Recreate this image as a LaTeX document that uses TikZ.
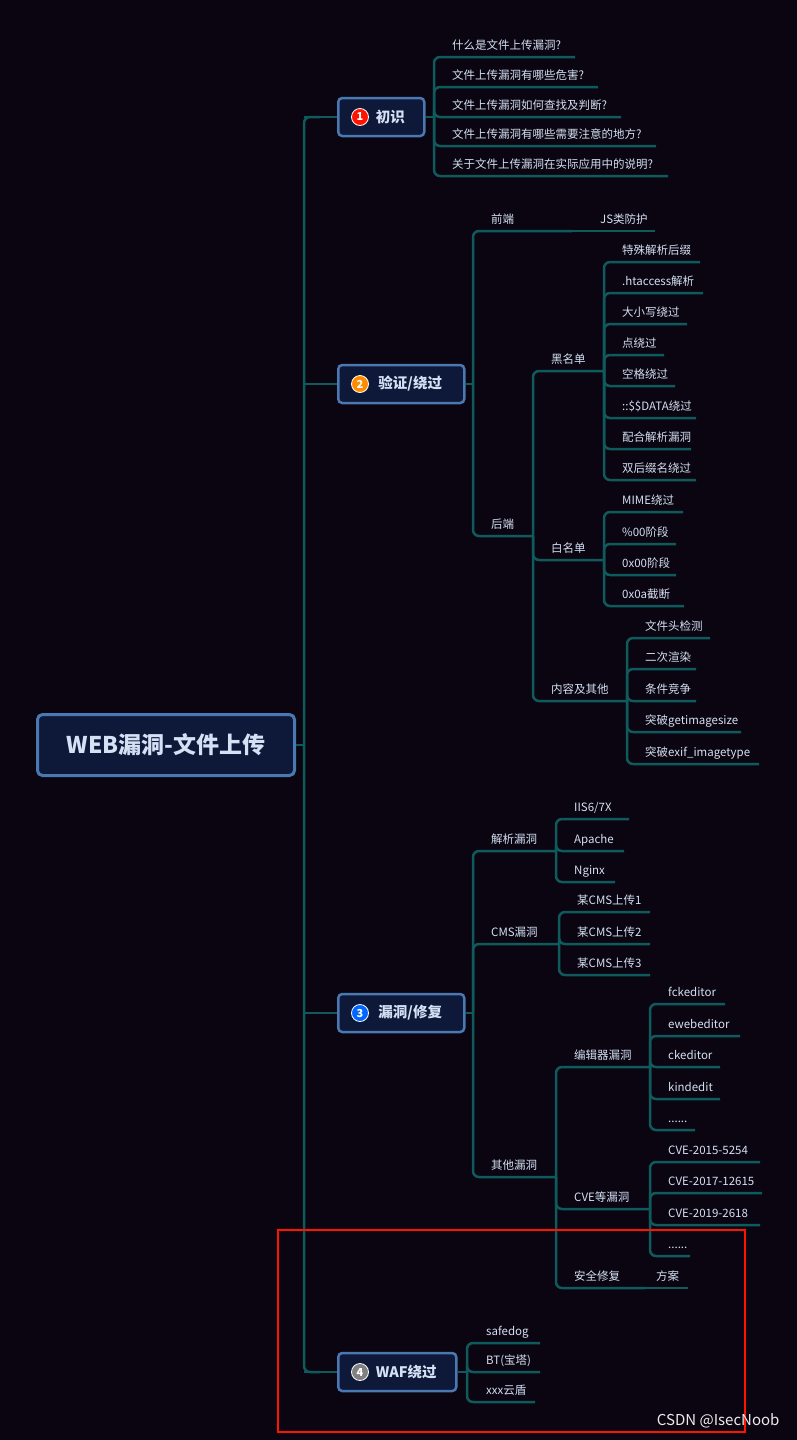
\documentclass[tikz,border=0pt]{standalone}
\usepackage{fontspec}
\setmainfont{Noto Sans CJK SC}
\begin{document}
\begin{tikzpicture}[x=1pt,y=-1pt,
  conn/.style={draw=linec,line width=2.5pt,rounded corners=6pt},
  txt/.style={text=txtc,font=\fontsize{11.5}{12}\selectfont,anchor=base west,inner sep=0pt},
  mainbox/.style={draw=boxb,fill=boxf,line width=2.5pt,rounded corners=4pt,text=txtc,font=\fontsize{14.5}{16}\bfseries,anchor=west,minimum height=38pt,inner xsep=8pt},
  numc/.style={circle,fill=#1,draw=white,line width=0.8pt,text=white,inner sep=0pt,minimum size=17pt,font=\fontsize{11}{11}\bfseries}]
\definecolor{bg}{HTML}{0A0510}
\definecolor{linec}{HTML}{0E5A5C}
\definecolor{txtc}{HTML}{D4E0F4}
\definecolor{boxb}{HTML}{4A78B0}
\definecolor{boxf}{HTML}{0E1838}
\fill[bg] (0,0) rectangle (797,1440);
\useasboundingbox (0,0) rectangle (797,1440);
\newcommand\leafitem[6]{\draw[conn] (#1,#2) |- (#4,#3); \node[txt] at (#5,#3-8) {#6};}
% root
\node[draw=boxb,fill=boxf,line width=3pt,rounded corners=5pt,minimum width=257pt,minimum height=61pt,text=txtc,font=\fontsize{23}{25}\bfseries] (root) at (166,745) {WEB漏洞-文件上传};
\draw[conn] (root.east) -- (304,745);
\draw[conn] (320,117) -| (304,1372) -- (320,1372);
% main nodes
\node[mainbox,minimum width=86pt] (m1) at (337,117) {\hspace{18pt}初识};
\node[mainbox,minimum width=126pt] (m2) at (337,384) {\hspace{18pt}验证/绕过};
\node[mainbox,minimum width=126pt] (m3) at (337,1013) {\hspace{18pt}漏洞/修复};
\node[mainbox,minimum width=118pt] (m4) at (337,1372) {\hspace{18pt}WAF绕过};
\node[numc=red!85!orange] (c1) at (360,117) {1};
\node[numc=orange!90!yellow] (c2) at (360,384) {2};
\node[numc=blue!60!cyan] (c3) at (360,1013) {3};
\node[numc=gray] (c4) at (360,1372) {4};
\draw[conn] (304,117) -- (m1.west);
\draw[conn] (304,384) -- (m2.west);
\draw[conn] (304,1013) -- (m3.west);
\draw[conn] (304,1372) -- (m4.west);
% branch 1
\draw[conn] (m1.east) -- (434,117);
\leafitem{434}{117}{57}{575}{452}{什么是文件上传漏洞?}
\leafitem{434}{117}{87}{598}{452}{文件上传漏洞有哪些危害?}
\leafitem{434}{117}{117}{621}{452}{文件上传漏洞如何查找及判断?}
\leafitem{434}{117}{146}{656}{452}{文件上传漏洞有哪些需要注意的地方?}
\leafitem{434}{117}{176}{668}{452}{关于文件上传漏洞在实际应用中的说明?}
% branch 2
\draw[conn] (m2.east) -- (473,384);
\leafitem{473}{384}{231}{572}{491}{前端}
\draw[conn] (572,231) -- (655,231); \node[txt] (js) at (600,223) {JS类防护};
\leafitem{473}{384}{536}{533}{491}{后端}
\leafitem{533}{536}{371}{604}{551}{黑名单}
\leafitem{533}{536}{560}{604}{551}{白名单}
\leafitem{533}{536}{701}{627}{551}{内容及其他}
\leafitem{604}{371}{262}{700}{622}{特殊解析后缀}
\leafitem{604}{371}{293}{703}{622}{.htaccess解析}
\leafitem{604}{371}{324}{687}{622}{大小写绕过}
\leafitem{604}{371}{355}{664}{622}{点绕过}
\leafitem{604}{371}{386}{675}{622}{空格绕过}
\leafitem{604}{371}{418}{696}{622}{::\$\$DATA绕过}
\leafitem{604}{371}{449}{691}{622}{配合解析漏洞}
\leafitem{604}{371}{480}{696}{622}{双后缀名绕过}
\leafitem{604}{560}{512}{683}{622}{MIME绕过}
\leafitem{604}{560}{544}{676}{622}{\%00阶段}
\leafitem{604}{560}{575}{676}{622}{0x00阶段}
\leafitem{604}{560}{606}{684}{622}{0x0a截断}
\leafitem{627}{701}{638}{710}{645}{文件头检测}
\leafitem{627}{701}{669}{696}{645}{二次渲染}
\leafitem{627}{701}{701}{696}{645}{条件竞争}
\leafitem{627}{701}{732}{741}{645}{突破getimagesize}
\leafitem{627}{701}{764}{759}{645}{突破exif\_imagetype}
% branch 3
\draw[conn] (m3.east) -- (473,1013);
\leafitem{473}{1013}{851}{556}{491}{解析漏洞}
\leafitem{473}{1013}{944}{559}{491}{CMS漏洞}
\leafitem{473}{1013}{1177}{556}{491}{其他漏洞}
\leafitem{556}{851}{819}{629}{574}{IIS6/7X}
\leafitem{556}{851}{851}{624}{574}{Apache}
\leafitem{556}{851}{882}{615}{574}{Nginx}
\leafitem{559}{944}{912}{650}{577}{某CMS上传1}
\leafitem{559}{944}{944}{650}{577}{某CMS上传2}
\leafitem{559}{944}{975}{650}{577}{某CMS上传3}
\leafitem{556}{1177}{1067}{650}{574}{编辑器漏洞}
\leafitem{556}{1177}{1209}{650}{574}{CVE等漏洞}
\leafitem{556}{1177}{1288}{645}{574}{安全修复}
\draw[conn] (645,1288) -- (688,1288); \node[txt] (fa) at (656,1280) {方案};
\leafitem{650}{1067}{1004}{725}{668}{fckeditor}
\leafitem{650}{1067}{1036}{740}{668}{ewebeditor}
\leafitem{650}{1067}{1067}{720}{668}{ckeditor}
\leafitem{650}{1067}{1099}{720}{668}{kindedit}
\leafitem{650}{1067}{1130}{695}{668}{......}
\leafitem{650}{1209}{1162}{760}{668}{CVE-2015-5254}
\leafitem{650}{1209}{1193}{762}{668}{CVE-2017-12615}
\leafitem{650}{1209}{1225}{760}{668}{CVE-2019-2618}
\leafitem{650}{1209}{1256}{690}{668}{......}
% branch 4
\draw[conn] (m4.east) -- (467,1372);
\leafitem{467}{1372}{1343}{540}{486}{safedog}
\leafitem{467}{1372}{1372}{540}{486}{BT(宝塔)}
\leafitem{467}{1372}{1402}{535}{486}{xxx云盾}
% annotation
\draw[red!85!orange,line width=2pt] (278,1230) rectangle (745,1432);
\node[text=white!85!gray,font=\fontsize{15}{15}\selectfont,anchor=east] (wm) at (783,1421) {CSDN @IsecNoob};
\end{tikzpicture}
\end{document}
